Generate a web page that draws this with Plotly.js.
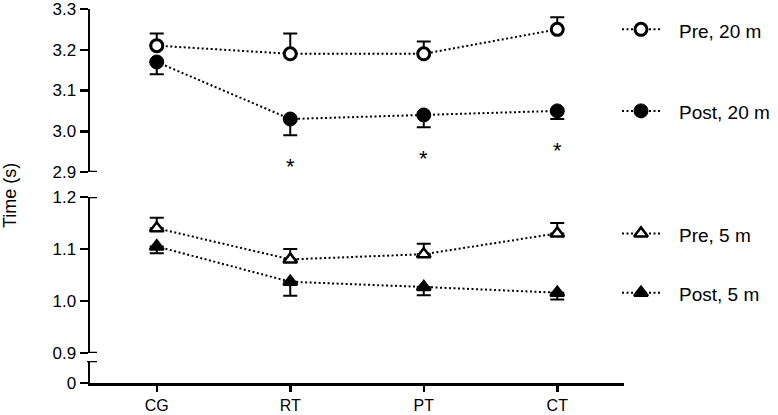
<!DOCTYPE html>
<html>
<head>
<meta charset="utf-8">
<script src="https://cdn.plot.ly/plotly-3.0.1.min.js"></script>
<style>
html,body{margin:0;padding:0;background:#fff;}
#chart{width:778px;height:415px;}
</style>
</head>
<body>
<div id="chart"></div>
<script>
// ---- data ----
var groups = ['CG', 'RT', 'PT', 'CT'];

var pre20 = [3.21, 3.19, 3.19, 3.25];
var pre20Err = [0.03, 0.05, 0.03, 0.03];
var post20 = [3.17, 3.03, 3.04, 3.05];
var post20Err = [0.03, 0.04, 0.03, 0.02];

var pre5 = [1.14, 1.08, 1.09, 1.13];
var pre5Err = [0.02, 0.02, 0.02, 0.02];
var post5 = [1.105, 1.037, 1.027, 1.016];
var post5Err = [0.013, 0.027, 0.016, 0.013];

var noErr = [0, 0, 0, 0];
var sig20 = ['', '*', '*', '*'];

var seriesNames = ['Pre, 20 m', 'Post, 20 m', 'Pre, 5 m', 'Post, 5 m'];

// ---- styles ----
var FONT = 'Liberation Sans, Arial, Helvetica, sans-serif';
var LINE = {color: 'black', width: 2, dash: '2px,2.5px'};

function errUp(arr) {
  return {type: 'data', symmetric: false, array: arr, arrayminus: noErr,
          width: 7, thickness: 2, color: 'black'};
}
function errDown(arr) {
  return {type: 'data', symmetric: false, array: noErr, arrayminus: arr,
          width: 7, thickness: 2, color: 'black'};
}

var mOpenCircle = {symbol: 'circle', size: 12, color: 'white', line: {color: 'black', width: 3}};
var mFullCircle = {symbol: 'circle', size: 14, color: 'black', line: {color: 'black', width: 1}};
var mOpenTri = {symbol: 'triangle-up', size: 12, color: 'white', line: {color: 'black', width: 2.5}};
var mFullTri = {symbol: 'triangle-up', size: 12, color: 'black', line: {color: 'black', width: 2.5}};

var series = [
  {y: pre20, err: errUp(pre20Err), m: mOpenCircle, ax: 'y'},
  {y: post20, err: errDown(post20Err), m: mFullCircle, ax: 'y'},
  {y: pre5, err: errUp(pre5Err), m: mOpenTri, ax: 'y2'},
  {y: post5, err: errDown(post5Err), m: mFullTri, ax: 'y2'}
];

var traces = [];
series.forEach(function (s, i) {
  traces.push({
    type: 'scatter', mode: 'lines+markers', name: seriesNames[i],
    x: groups, y: s.y, xaxis: 'x', yaxis: s.ax,
    line: LINE, marker: s.m, error_y: s.err, showlegend: false,
    cliponaxis: false
  });
});

// legend samples, placed at the level of each series' last value
var annotations = [];
series.forEach(function (s, i) {
  var last = s.y[s.y.length - 1];
  traces.push({
    type: 'scatter', mode: 'lines', x: [0, 1], y: [last, last],
    xaxis: 'x2', yaxis: s.ax, line: LINE, showlegend: false, hoverinfo: 'skip'
  });
  traces.push({
    type: 'scatter', mode: 'markers', x: [0.5], y: [last],
    xaxis: 'x2', yaxis: s.ax, marker: s.m, showlegend: false, hoverinfo: 'skip',
    cliponaxis: false
  });
  annotations.push({
    xref: 'paper', yref: s.ax, x: 0.8702, y: last, xanchor: 'left', yanchor: 'middle',
    text: seriesNames[i], showarrow: false, yshift: -2,
    font: {family: FONT, size: 19, color: 'black'}
  });
});

// significance markers below post 20 m error bars
sig20.forEach(function (t, i) {
  if (!t) return;
  annotations.push({
    xref: 'x', yref: 'y', x: groups[i], y: post20[i] - post20Err[i],
    text: t, showarrow: false, yanchor: 'middle', yshift: -31,
    font: {family: FONT, size: 22, color: 'black'}
  });
});

annotations.push({
  xref: 'paper', yref: 'paper', x: 10 / 778, y: 1 - 196 / 415,
  text: 'Time (s)', textangle: -90, showarrow: false,
  xanchor: 'center', yanchor: 'middle',
  font: {family: FONT, size: 18, color: 'black'}
});

var axLeft = 90 / 778;
var capW = 7 / 778;
var capStyle = {color: 'black', width: 2.5};
var shapes = [
  {type: 'line', xref: 'paper', yref: 'y', x0: axLeft, x1: axLeft + capW, y0: 2.9, y1: 2.9, line: capStyle},
  {type: 'line', xref: 'paper', yref: 'y2', x0: axLeft, x1: axLeft + capW, y0: 1.2, y1: 1.2, line: capStyle},
  {type: 'line', xref: 'paper', yref: 'y2', x0: axLeft, x1: axLeft + capW, y0: 0.9, y1: 0.9, line: capStyle},
  {type: 'line', xref: 'paper', yref: 'y3', x0: axLeft - 3 / 778, x1: axLeft + capW, y0: 0.1, y1: 0.1, line: capStyle}
];

var yCommon = {
  showline: true, linecolor: 'black', linewidth: 2.5,
  ticks: 'outside', ticklen: 8, tickwidth: 2.5, tickcolor: 'black',
  showgrid: false, zeroline: false, anchor: 'x',
  tickfont: {family: FONT, size: 17, color: 'black'},
  ticklabeloverflow: 'allow',
  fixedrange: true
};

var layout = {
  width: 778, height: 415,
  margin: {l: 0, r: 0, t: 0, b: 0},
  paper_bgcolor: 'white', plot_bgcolor: 'rgba(0,0,0,0)',
  font: {family: FONT, size: 18, color: 'black'},
  showlegend: false,
  xaxis: {
    domain: [axLeft, 624 / 778], range: [-0.5, 3.5], type: 'category',
    anchor: 'y3', showline: true, linecolor: 'black', linewidth: 2.5,
    ticks: 'outside', ticklen: 6, tickwidth: 2.5, tickcolor: 'black',
    showgrid: false, zeroline: false, ticklabeloverflow: 'allow',
    tickfont: {family: FONT, size: 16, color: 'black'}
  },
  xaxis2: {domain: [622 / 778, 660 / 778], range: [0, 1], visible: false, anchor: 'y'},
  yaxis: Object.assign({}, yCommon, {
    domain: [1 - 172 / 415, 1 - 9 / 415], range: [2.9, 3.3],
    tickvals: [2.9, 3.0, 3.1, 3.2, 3.3], tickformat: '.1f'
  }),
  yaxis2: Object.assign({}, yCommon, {
    domain: [1 - 353 / 415, 1 - 197 / 415], range: [0.9, 1.2],
    tickvals: [0.9, 1.0, 1.1, 1.2], tickformat: '.1f'
  }),
  yaxis3: Object.assign({}, yCommon, {
    domain: [1 - 383 / 415, 1 - 361 / 415], range: [0, 0.1],
    tickvals: [0], tickformat: 'd'
  }),
  annotations: annotations,
  shapes: shapes
};

Plotly.newPlot('chart', traces, layout, {displayModeBar: false, staticPlot: true});
</script>
</body>
</html>
